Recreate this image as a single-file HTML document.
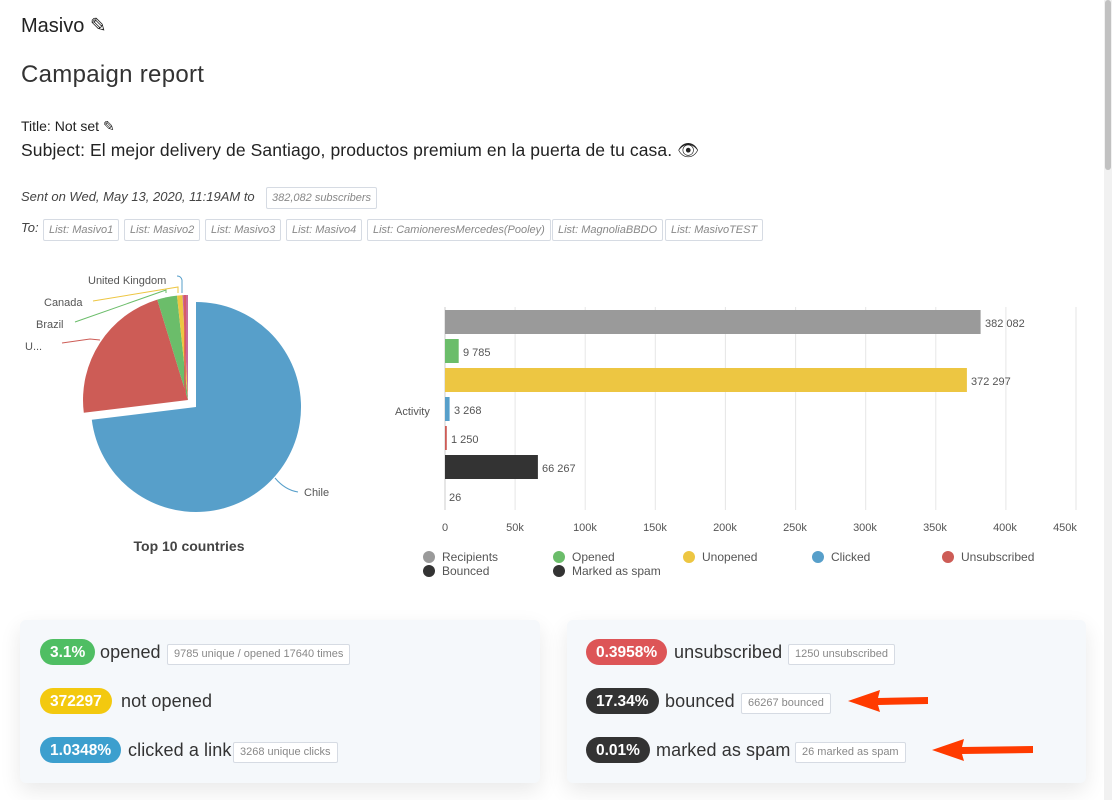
<!DOCTYPE html>
<html><head><meta charset="utf-8"><style>
body{margin:0;width:1112px;height:800px;overflow:hidden;background:#fff;font-family:"Liberation Sans",sans-serif;color:#222;position:relative}
.a{position:absolute;white-space:nowrap}
.tag{position:absolute;border:1px solid #d6dbe3;border-radius:2px;font-size:11px;color:#888;padding:0 5px;height:20px;line-height:20px;font-style:italic;background:#fff}
.card{position:absolute;background:#f5f8fb;border-radius:6px;box-shadow:0 8px 22px rgba(0,0,0,0.09)}
.pill{position:absolute;height:26px;line-height:27px;border-radius:13px;color:#fff;font-weight:bold;font-size:15.5px;padding:0 10px}
.lbl{position:absolute;font-size:18px;color:#333;line-height:26px;letter-spacing:0.1px}
.sm{position:absolute;border:1px solid #d6dbe3;border-radius:2px;font-size:11px;color:#888;padding:0 6px;height:19px;line-height:19px;background:#fff}
</style></head><body>
<div class="a" style="left:21px;top:13px;font-size:20px">Masivo ✎</div>
<div class="a" style="left:21px;top:61px;font-size:24px;color:#333;letter-spacing:0.3px">Campaign report</div>
<div class="a" style="left:21px;top:118px;font-size:14px">Title: Not set ✎</div>
<div class="a" style="left:21px;top:140px;font-size:17.5px;letter-spacing:0.1px">Subject: El mejor delivery de Santiago, productos premium en la puerta de tu casa. 👁</div>
<div class="a" style="left:21px;top:189px;font-size:13px;font-style:italic;color:#444">Sent on Wed, May 13, 2020, 11:19AM to</div>
<div class="tag" style="left:266px;top:187px">382,082 subscribers</div>
<div class="a" style="left:21px;top:220px;font-size:13px;font-style:italic;color:#444">To:</div>
<div class="tag" style="left:43px;top:219px">List: Masivo1</div>
<div class="tag" style="left:124px;top:219px">List: Masivo2</div>
<div class="tag" style="left:205px;top:219px">List: Masivo3</div>
<div class="tag" style="left:286px;top:219px">List: Masivo4</div>
<div class="tag" style="left:367px;top:219px">List: CamioneresMercedes(Pooley)</div>
<div class="tag" style="left:552px;top:219px">List: MagnoliaBBDO</div>
<div class="tag" style="left:665px;top:219px">List: MasivoTEST</div>

<svg class="a" style="left:0;top:0" width="1112" height="600" font-family="Liberation Sans, sans-serif">
<path d="M196 407 L196 302 A105 105 0 1 1 91.8 419.8 Z" fill="#579fca"/>
<path d="M188 400 L83.8 412.8 A105 105 0 0 1 157.3 299.6 Z" fill="#cd5c56"/>
<path d="M188 400 L157.3 299.6 A105 105 0 0 1 177 295.6 Z" fill="#6bbd6a"/>
<path d="M188 400 L177 295.6 A105 105 0 0 1 182.5 295.1 Z" fill="#edc642"/>
<path d="M188 400 L182.5 295.1 A105 105 0 0 1 188 295 Z" fill="#c86a9a"/>
<line x1="185" y1="295" x2="185" y2="400" stroke="#d55" stroke-width="1.5"/>
<g fill="none" stroke-width="1">
<path d="M275 478 Q285 490 298 492" stroke="#579fca"/>
<path d="M100 340 L90 339 L62 343" stroke="#cd5c56"/>
<path d="M166 293 L166 290 L75 322" stroke="#6bbd6a"/>
<path d="M178 293 L178 287 L93 301" stroke="#edc642"/>
<path d="M182 293 L182 280 Q181 276 177 276" stroke="#579fca"/>
</g>
<g font-size="11" fill="#555">
<text x="304" y="496">Chile</text><text x="25" y="350">U...</text><text x="36" y="328">Brazil</text><text x="44" y="306">Canada</text><text x="88" y="284">United Kingdom</text>
</g>
<text x="189" y="551" text-anchor="middle" font-size="14" font-weight="bold" fill="#444">Top 10 countries</text>

<g stroke="#e6e6e6">
<line x1="515.1" y1="307" x2="515.1" y2="510"/><line x1="585.2" y1="307" x2="585.2" y2="510"/><line x1="655.3" y1="307" x2="655.3" y2="510"/><line x1="725.4" y1="307" x2="725.4" y2="510"/><line x1="795.6" y1="307" x2="795.6" y2="510"/><line x1="865.7" y1="307" x2="865.7" y2="510"/><line x1="935.8" y1="307" x2="935.8" y2="510"/><line x1="1005.9" y1="307" x2="1005.9" y2="510"/><line x1="1076" y1="307" x2="1076" y2="510"/>
</g>
<line x1="445" y1="307" x2="445" y2="510" stroke="#ccc"/>
<rect x="445" y="310" width="535.6" height="24" fill="#9a9a9a"/>
<rect x="445" y="339" width="13.7" height="24" fill="#6bbd6a"/>
<rect x="445" y="368" width="521.9" height="24" fill="#edc642"/>
<rect x="445" y="397" width="4.6" height="24" fill="#579fca"/>
<rect x="445" y="426" width="1.8" height="24" fill="#cd5c56"/>
<rect x="445" y="455" width="92.9" height="24" fill="#333"/>
<g font-size="11" fill="#555">
<text x="985" y="327">382 082</text><text x="463" y="356">9 785</text><text x="971" y="385">372 297</text><text x="454" y="414">3 268</text><text x="451" y="443">1 250</text><text x="542" y="472">66 267</text><text x="449" y="501">26</text>
<text x="395" y="415">Activity</text>
<g text-anchor="middle"><text x="445" y="531">0</text><text x="515" y="531">50k</text><text x="585" y="531">100k</text><text x="655" y="531">150k</text><text x="725" y="531">200k</text><text x="795" y="531">250k</text><text x="865" y="531">300k</text><text x="935" y="531">350k</text><text x="1005" y="531">400k</text><text x="1065" y="531">450k</text></g>
</g>
<g font-size="12" fill="#555">
<circle cx="429" cy="557" r="6" fill="#9a9a9a"/><text x="442" y="561">Recipients</text>
<circle cx="559" cy="557" r="6" fill="#6bbd6a"/><text x="572" y="561">Opened</text>
<circle cx="689" cy="557" r="6" fill="#edc642"/><text x="702" y="561">Unopened</text>
<circle cx="818" cy="557" r="6" fill="#579fca"/><text x="831" y="561">Clicked</text>
<circle cx="948" cy="557" r="6" fill="#cd5c56"/><text x="961" y="561">Unsubscribed</text>
<circle cx="429" cy="571" r="6" fill="#333"/><text x="442" y="575">Bounced</text>
<circle cx="559" cy="571" r="6" fill="#333"/><text x="572" y="575">Marked as spam</text>
</g>
</svg>

<div class="card" style="left:20px;top:620px;width:520px;height:163px"></div>
<div class="card" style="left:567px;top:620px;width:519px;height:163px"></div>

<div class="pill" style="left:40px;top:639px;background:#4fbe63">3.1%</div>
<div class="lbl" style="left:100px;top:639px">opened</div>
<div class="sm" style="left:167px;top:644px">9785 unique / opened 17640 times</div>
<div class="pill" style="left:40px;top:688px;background:#f3c90f">372297</div>
<div class="lbl" style="left:121px;top:688px">not opened</div>
<div class="pill" style="left:40px;top:737px;background:#3c9fce">1.0348%</div>
<div class="lbl" style="left:128px;top:737px">clicked a link</div>
<div class="sm" style="left:233px;top:742px">3268 unique clicks</div>

<div class="pill" style="left:586px;top:639px;background:#dd5557">0.3958%</div>
<div class="lbl" style="left:674px;top:639px">unsubscribed</div>
<div class="sm" style="left:788px;top:644px">1250 unsubscribed</div>
<div class="pill" style="left:586px;top:688px;background:#333">17.34%</div>
<div class="lbl" style="left:665px;top:688px">bounced</div>
<div class="sm" style="left:741px;top:693px">66267 bounced</div>
<div class="pill" style="left:586px;top:737px;background:#333">0.01%</div>
<div class="lbl" style="left:656px;top:737px">marked as spam</div>
<div class="sm" style="left:795px;top:742px">26 marked as spam</div>

<svg class="a" style="left:840px;top:680px" width="200" height="85">
<polygon points="8,21 40,10 38,18 88,17 88,24 38,25 40,32" fill="#ff3b00"/>
<polygon points="92,70 124,59 122,67 193,66 193,73 122,74 124,81" fill="#ff3b00"/>
</svg>
<div class="a" style="left:1104px;top:0;width:8px;height:800px;background:#f1f1f1"></div>
<div class="a" style="left:1105px;top:0;width:6px;height:170px;background:#c1c1c1;border-radius:3px"></div>
</body></html>
